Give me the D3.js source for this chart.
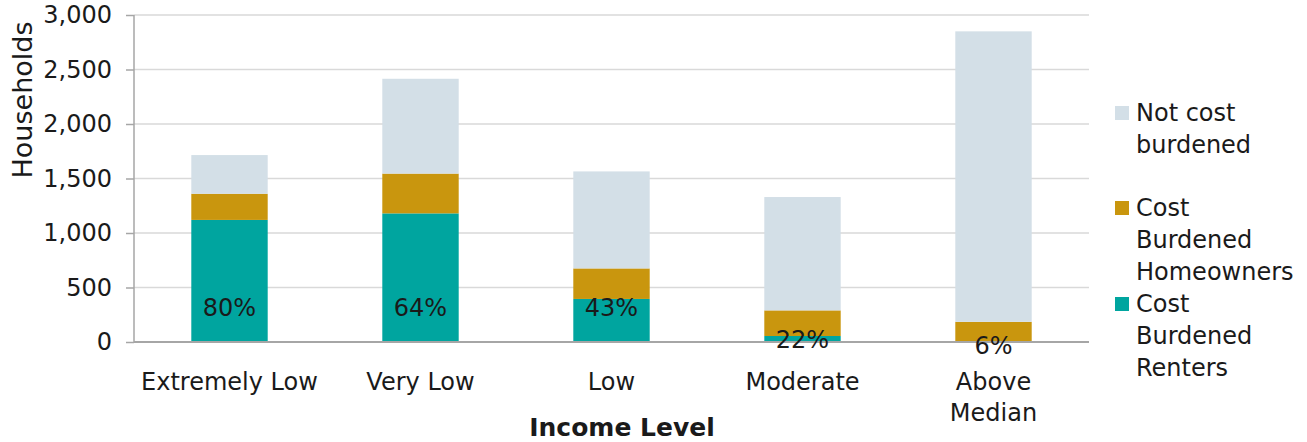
<!DOCTYPE html>
<html>
<head>
<meta charset="utf-8">
<script src="https://cdn.jsdelivr.net/npm/d3@7"></script>
<style>
  body { margin: 0; background: #fff; }
  svg text { font-family: "DejaVu Sans", sans-serif; fill: #1a1a1a; }
</style>
</head>
<body>
<svg id="chart" width="1307" height="442"></svg>
<script>
// data
var categories = ["Extremely Low", "Very Low", "Low", "Moderate", "Above Median"];
var renters = [1120, 1180, 395, 55, 0];
var owners = [240, 365, 280, 235, 185];
var notBurdened = [355, 870, 890, 1040, 2665];
var pctLabels = ["80%", "64%", "43%", "22%", "6%"];
var yTicks = [0, 500, 1000, 1500, 2000, 2500, 3000];
var seriesNames = ["Cost Burdened Renters", "Cost Burdened Homeowners", "Not cost burdened"];
var seriesColors = ["#00a59f", "#c9960e", "#d3dfe7"];

var svg = d3.select("#chart");
var pLeft = 134, pRight = 1089, pTop = 15, pBottom = 342;
var fs = "24px";

var x = d3.scaleBand().domain(categories).range([pLeft, pRight]).paddingInner(0.6).paddingOuter(0.3);
var y = d3.scaleLinear().domain([0, 3000]).range([pBottom, pTop]);

// gridlines
svg.append("g").selectAll("line")
  .data(yTicks.slice(1))
  .join("line")
  .attr("x1", pLeft).attr("x2", pRight)
  .attr("y1", d => y(d)).attr("y2", d => y(d))
  .attr("stroke", "#d9d9d9").attr("stroke-width", 1.5);

// stacked bars
var rows = categories.map(function (c, i) {
  return {cat: c, r: renters[i], o: owners[i], n: notBurdened[i]};
});
var stack = d3.stack().keys(["r", "o", "n"])(rows);

svg.append("g").selectAll("g")
  .data(stack)
  .join("g")
  .attr("fill", (d, i) => seriesColors[i])
  .selectAll("rect")
  .data(d => d)
  .join("rect")
  .attr("x", d => x(d.data.cat))
  .attr("width", x.bandwidth())
  .attr("y", d => y(d[1]))
  .attr("height", d => y(d[0]) - y(d[1]));

// y axis
var yAxis = d3.axisLeft(y).tickValues(yTicks).tickSize(8).tickFormat(d3.format(","));
var gy = svg.append("g")
  .attr("transform", "translate(" + pLeft + ",0)")
  .call(yAxis);
gy.select(".domain").attr("stroke", "#a6a6a6").attr("stroke-width", 1.5).attr("d", "M0," + pTop + "V" + pBottom);
gy.selectAll(".tick line").attr("stroke", "#a6a6a6").attr("stroke-width", 1.5);
gy.selectAll(".tick text").attr("x", -22).style("font-size", fs).style("font-family", "DejaVu Sans").attr("fill", "#1a1a1a");

// x baseline
svg.append("line")
  .attr("x1", pLeft).attr("x2", pRight)
  .attr("y1", pBottom).attr("y2", pBottom)
  .attr("stroke", "#a6a6a6").attr("stroke-width", 2);

// x category labels
var xl = svg.append("g").selectAll("text")
  .data(categories)
  .join("text")
  .attr("text-anchor", "middle")
  .style("font-size", fs)
  .attr("x", d => x(d) + x.bandwidth() / 2)
  .attr("y", 390);
xl.each(function (d) {
  var t = d3.select(this);
  var parts = d === "Above Median" ? ["Above", "Median"] : [d];
  parts.forEach(function (p, k) {
    t.append("tspan").attr("x", x(d) + x.bandwidth() / 2).attr("dy", k === 0 ? 0 : 31).text(p);
  });
});

// percentage labels
svg.append("g").selectAll("text")
  .data(categories)
  .join("text")
  .attr("text-anchor", "middle")
  .attr("dominant-baseline", "middle")
  .style("font-size", fs)
  .attr("x", d => x(d) + x.bandwidth() / 2)
  .attr("y", (d, i) => y(Math.min(renters[i], 350)) + 5)
  .text((d, i) => pctLabels[i]);

// axis titles
svg.append("text")
  .attr("transform", "translate(32,100) rotate(-90)")
  .attr("text-anchor", "middle")
  .style("font-size", "27px")
  .text("Households");

svg.append("text")
  .attr("x", 622).attr("y", 436)
  .attr("text-anchor", "middle")
  .style("font-size", "25px").style("font-weight", "bold")
  .text("Income Level");

// legend
var legendItems = [
  {name: seriesNames[2], color: seriesColors[2], lines: ["Not cost", "burdened"], y: 112},
  {name: seriesNames[1], color: seriesColors[1], lines: ["Cost", "Burdened", "Homeowners"], y: 207},
  {name: seriesNames[0], color: seriesColors[0], lines: ["Cost", "Burdened", "Renters"], y: 303}
];
var lg = svg.append("g").selectAll("g").data(legendItems).join("g");
lg.append("rect")
  .attr("x", 1115).attr("y", d => d.y - 6)
  .attr("width", 14).attr("height", 14)
  .attr("fill", d => d.color);
lg.append("text")
  .attr("x", 1136).attr("y", d => d.y + 9)
  .style("font-size", fs)
  .each(function (d) {
    var t = d3.select(this);
    d.lines.forEach(function (l, k) {
      t.append("tspan").attr("x", 1136).attr("dy", k === 0 ? 0 : 32).text(l);
    });
  });
</script>
</body>
</html>
